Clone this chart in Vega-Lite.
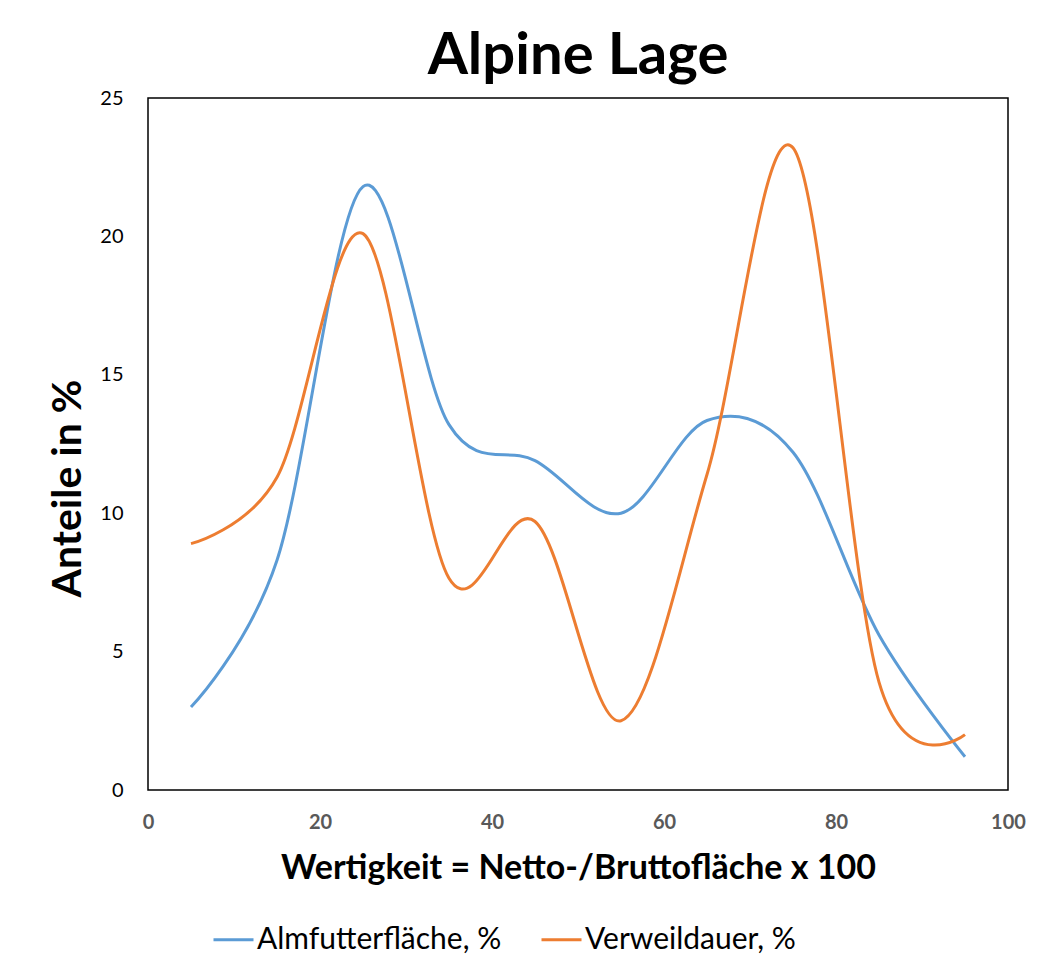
{
  "$schema": "https://vega.github.io/schema/vega-lite/v6.json",
  "autosize": {"type": "none"},
  "width": 860,
  "height": 692,
  "padding": {"left": 148, "top": 98, "right": 50, "bottom": 182},
  "background": "white",
  "title": {
    "text": "Alpine Lage",
    "font": "Lato",
    "fontSize": 58,
    "fontWeight": "bold",
    "color": "#000000",
    "anchor": "middle",
    "offset": 2
  },
  "data": {
    "values": [
      {"x": 5, "series": "Almfutterfläche, %", "y": 3.0},
      {"x": 15, "series": "Almfutterfläche, %", "y": 8.3},
      {"x": 25, "series": "Almfutterfläche, %", "y": 21.8},
      {"x": 35, "series": "Almfutterfläche, %", "y": 13.2},
      {"x": 45, "series": "Almfutterfläche, %", "y": 11.9},
      {"x": 55, "series": "Almfutterfläche, %", "y": 10.0},
      {"x": 65, "series": "Almfutterfläche, %", "y": 13.35},
      {"x": 75, "series": "Almfutterfläche, %", "y": 12.2},
      {"x": 85, "series": "Almfutterfläche, %", "y": 5.6},
      {"x": 95, "series": "Almfutterfläche, %", "y": 1.2},
      {"x": 5, "series": "Verweildauer, %", "y": 8.9},
      {"x": 15, "series": "Verweildauer, %", "y": 11.3},
      {"x": 25, "series": "Verweildauer, %", "y": 20.1},
      {"x": 35, "series": "Verweildauer, %", "y": 7.65},
      {"x": 45, "series": "Verweildauer, %", "y": 9.7},
      {"x": 55, "series": "Verweildauer, %", "y": 2.5},
      {"x": 65, "series": "Verweildauer, %", "y": 11.4},
      {"x": 75, "series": "Verweildauer, %", "y": 23.2},
      {"x": 85, "series": "Verweildauer, %", "y": 3.9},
      {"x": 95, "series": "Verweildauer, %", "y": 2.0}
    ]
  },
  "mark": {"type": "line", "interpolate": "cardinal", "tension": 0, "strokeWidth": 3},
  "encoding": {
    "x": {
      "field": "x",
      "type": "quantitative",
      "scale": {"domain": [0, 100], "nice": false, "zero": false},
      "axis": {
        "title": "Wertigkeit = Netto-/Bruttofläche x 100",
        "values": [0, 20, 40, 60, 80, 100],
        "grid": false,
        "domain": false,
        "ticks": false,
        "labelFont": "Lato",
        "labelFontSize": 20,
        "labelFontWeight": "bold",
        "labelColor": "#595959",
        "labelPadding": 22,
        "labelFlush": false,
        "titleFont": "Lato",
        "titleFontSize": 34,
        "titleFontWeight": "bold",
        "titleColor": "#000000",
        "titleBaseline": "alphabetic",
        "titleY": 88
      }
    },
    "y": {
      "field": "y",
      "type": "quantitative",
      "scale": {"domain": [0, 25], "nice": false},
      "axis": {
        "title": "Anteile in %",
        "values": [0, 5, 10, 15, 20, 25],
        "grid": false,
        "domain": false,
        "ticks": false,
        "labelFont": "Lato",
        "labelFontSize": 20,
        "labelColor": "#000000",
        "labelPadding": 25,
        "labelFlush": false,
        "titleFont": "Lato",
        "titleFontSize": 41,
        "titleFontWeight": "bold",
        "titleColor": "#000000",
        "titleAngle": -90,
        "titleBaseline": "alphabetic",
        "titleX": -68,
        "titleY": 390
      }
    },
    "color": {
      "field": "series",
      "type": "nominal",
      "scale": {
        "domain": ["Almfutterfläche, %", "Verweildauer, %"],
        "range": ["#5B9BD5", "#ED7D31"]
      },
      "legend": {
        "title": null,
        "orient": "none",
        "direction": "horizontal",
        "legendX": 64,
        "legendY": 820,
        "symbolType": "stroke",
        "symbolSize": 1600,
        "symbolStrokeWidth": 3,
        "labelFont": "Lato",
        "labelFontSize": 30,
        "labelColor": "#000000",
        "labelOffset": 2,
        "columnPadding": 33,
        "labelLimit": 400
      }
    }
  },
  "config": {
    "view": {"stroke": "#000000", "strokeWidth": 1.5}
  }
}
